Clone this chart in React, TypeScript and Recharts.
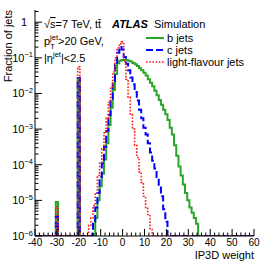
import React from 'react'
import { LineChart, Line, XAxis, YAxis } from 'recharts'

const xMin = -40
const xMax = 60
const yMin = 1e-6
const yMax = 2.2

// one-unit bins, centred on integers
const binCentres = Array.from({ length: xMax - xMin + 1 }, (_, i) => xMin + i)

// default weights for jets without usable tracks
const spikeBins = [-30, -20]
const bSpikes = [9e-6, 0.026]
const cSpikes = [3.5e-6, 0.027]
const lightSpikes = [6.6e-6, 0.056]

// b jets, bins from -12 upwards
const bStart = -12
const bJets = [
  3.2e-6, 1.0e-5, 2.5e-5, 5.6e-5, 1.4e-4, 4.0e-4, 1.3e-3, 4.0e-3, 0.0126, 0.035,
  0.071, 0.083, 0.087, 0.089, 0.087, 0.083, 0.079, 0.072, 0.066, 0.059,
  0.051, 0.045, 0.038, 0.032, 0.025, 0.020, 0.016, 0.012, 8.9e-3, 6.6e-3,
  4.8e-3, 3.5e-3, 2.6e-3, 1.8e-3, 1.1e-3, 7.1e-4, 3.5e-4, 1.8e-4, 8.9e-5, 5.0e-5,
  2.8e-5, 1.6e-5, 1.0e-5, 6.3e-6, 4.5e-6, 3.2e-6, 2.2e-6,
]

// c jets, bins from -13 upwards
const cStart = -13
const cJets = [
  2.5e-6, 6.3e-6, 1.6e-5, 4.5e-5, 1.1e-4, 3.2e-4, 8.9e-4, 2.5e-3, 7.1e-3, 0.022,
  0.063, 0.14, 0.20, 0.17, 0.105, 0.068, 0.045, 0.028, 0.018, 0.011,
  6.3e-3, 3.5e-3, 2.0e-3, 1.1e-3, 7.1e-4, 4.0e-4, 2.2e-4, 1.3e-4, 7.9e-5, 4.5e-5,
  2.5e-5, 1.3e-5, 5.6e-6, 2.5e-6,
]

// light-flavour jets, bins from -15 upwards
const lightStart = -15
const lightJets = [
  2.0e-6, 3.2e-6, 7.1e-6, 1.6e-5, 5.0e-5, 1.1e-4, 2.8e-4, 7.9e-4, 2.0e-3, 5.6e-3,
  0.014, 0.040, 0.10, 0.19, 0.25, 0.28, 0.079, 0.025, 7.9e-3, 2.5e-3,
  1.0e-3, 3.5e-4, 1.6e-4, 6.3e-5, 3.2e-5, 1.3e-5, 6.3e-6, 4.0e-6, 1.6e-6,
]

const xTicks = Array.from({ length: (xMax - xMin) / 2 + 1 }, (_, i) => xMin + 2 * i)
const yTicks: number[] = []
for (let e = -6; e <= 0; e++) {
  for (let m = 1; m <= 9; m++) {
    const v = m * Math.pow(10, e)
    if (v <= yMax) yTicks.push(v)
  }
}

function frac(centre: number, start: number, vals: number[], spikes: number[]) {
  const s = spikeBins.indexOf(centre)
  if (s >= 0) return spikes[s]
  const i = centre - start
  return i >= 0 && i < vals.length ? vals[i] : 0
}

// empty bins sit on the bottom of the frame, like ROOT draws them
const rows = binCentres.map((c) => ({
  x: c - 0.5,
  b: Math.max(frac(c, bStart, bJets, bSpikes), yMin),
  c: Math.max(frac(c, cStart, cJets, cSpikes), yMin),
  light: Math.max(frac(c, lightStart, lightJets, lightSpikes), yMin),
}))
const data = [...rows, { ...rows[rows.length - 1], x: xMax + 0.5 }]

const font = '"Liberation Sans", Arial, Helvetica, sans-serif'
const green = '#2aa52a'
const blue = '#0000ff'
const red = '#ff1a1a'

const isMajorY = (v: number) => Math.abs(Math.log10(v) - Math.round(Math.log10(v))) < 1e-6

function BottomTick({ x, y, payload }: any) {
  const v = payload.value
  const major = v % 10 === 0
  return (
    <g>
      <line x1={x} x2={x} y1={y} y2={y - (major ? 7 : 3.5)} stroke="#000" />
      {major && (
        <text x={x} y={y + 9.5} textAnchor="middle" fontSize={10} fontFamily={font} fill="#000">
          {v}
        </text>
      )}
    </g>
  )
}

function TopTick({ x, y, payload }: any) {
  const major = payload.value % 10 === 0
  return <line x1={x} x2={x} y1={y} y2={y + (major ? 7 : 3.5)} stroke="#000" />
}

function LeftTick({ x, y, payload }: any) {
  const v = payload.value
  const major = isMajorY(v)
  const e = Math.round(Math.log10(v))
  return (
    <g>
      <line x1={x} x2={x + (major ? 7 : 3.5)} y1={y} y2={y} stroke="#000" />
      {major && e === 0 && (
        <text x={x - 8} y={y + 4} textAnchor="end" fontSize={11} fontFamily={font} fill="#000">1</text>
      )}
      {major && e < 0 && (
        <text x={x - 2} y={y + 4} textAnchor="end" fontSize={11} fontFamily={font} fill="#000">
          10<tspan dy={-4.5} fontSize={7.5}>{'\u2212' + -e}</tspan>
        </text>
      )}
    </g>
  )
}

function RightTick({ x, y, payload }: any) {
  const major = isMajorY(payload.value)
  return <line x1={x} x2={x - (major ? 7 : 3.5)} y1={y} y2={y} stroke="#000" />
}

export default function App() {
  return (
    <div style={{ position: 'absolute', left: 0, top: 0, width: 266, height: 266, background: '#fff' }}>
      <LineChart width={266} height={266} data={data} margin={{ top: 10, right: 12, bottom: 0, left: 0 }}>
        <XAxis
          dataKey="x"
          type="number"
          domain={[xMin, xMax]}
          allowDataOverflow
          ticks={xTicks}
          interval={0}
          tickSize={0}
          tickMargin={0}
          tickLine={false}
          height={30}
          axisLine={{ stroke: '#000' }}
          tick={<BottomTick />}
        />
        <XAxis
          xAxisId="top"
          orientation="top"
          type="number"
          domain={[xMin, xMax]}
          allowDataOverflow
          ticks={xTicks}
          interval={0}
          tickSize={0}
          tickMargin={0}
          tickLine={false}
          height={0}
          axisLine={{ stroke: '#000' }}
          tick={<TopTick />}
        />
        <YAxis
          type="number"
          scale="log"
          domain={[yMin, yMax]}
          allowDataOverflow
          ticks={yTicks}
          interval={0}
          tickSize={0}
          tickMargin={0}
          tickLine={false}
          width={35}
          axisLine={{ stroke: '#000' }}
          tick={<LeftTick />}
        />
        <YAxis
          yAxisId="right"
          orientation="right"
          type="number"
          scale="log"
          domain={[yMin, yMax]}
          allowDataOverflow
          ticks={yTicks}
          interval={0}
          tickSize={0}
          tickMargin={0}
          tickLine={false}
          width={0}
          axisLine={{ stroke: '#000' }}
          tick={<RightTick />}
        />
        <Line dataKey="b" type="stepAfter" stroke={green} strokeWidth={2} dot={false} isAnimationActive={false} />
        <Line dataKey="c" type="stepAfter" stroke={blue} strokeWidth={2} strokeDasharray="7 3" dot={false} isAnimationActive={false} />
        <Line dataKey="light" type="stepAfter" stroke={red} strokeWidth={1.6} strokeDasharray="1.6 1.6" dot={false} isAnimationActive={false} />
      </LineChart>
      <svg width={266} height={266} style={{ position: 'absolute', left: 0, top: 0, pointerEvents: 'none' }} fontFamily={font} fontSize={11}>
        <text transform="rotate(-90)" x={-10} y={12} textAnchor="end">Fraction of jets</text>
        <text x={254} y={259} textAnchor="end">IP3D weight</text>

        <text x={44} y={28}>√<tspan textDecoration="overline">s</tspan>=7 TeV, tt̄</text>
        <text x={44} y={45}>
          p<tspan dy={4} fontSize={7.5}>T</tspan>
          <tspan dx={-4.6} dy={-9} fontSize={7.5}>jet</tspan>
          <tspan dy={5}>&gt;20 GeV,</tspan>
        </text>
        <text x={44} y={62}>
          |η<tspan dy={-5} fontSize={7.5}>jet</tspan>
          <tspan dy={5}>|&lt;2.5</tspan>
        </text>

        <text x={112} y={28} fontWeight="bold" fontStyle="italic">ATLAS</text>
        <text x={154} y={28}>Simulation</text>

        <line x1={146} x2={164} y1={38} y2={38} stroke={green} strokeWidth={2} />
        <text x={167} y={41.5}>b jets</text>
        <line x1={146} x2={164} y1={50} y2={50} stroke={blue} strokeWidth={2} strokeDasharray="7 3" />
        <text x={167} y={53.5}>c jets</text>
        <line x1={146} x2={164} y1={62} y2={62} stroke={red} strokeWidth={1.6} strokeDasharray="1.6 1.6" />
        <text x={167} y={65.5}>light-flavour jets</text>
      </svg>
    </div>
  )
}
